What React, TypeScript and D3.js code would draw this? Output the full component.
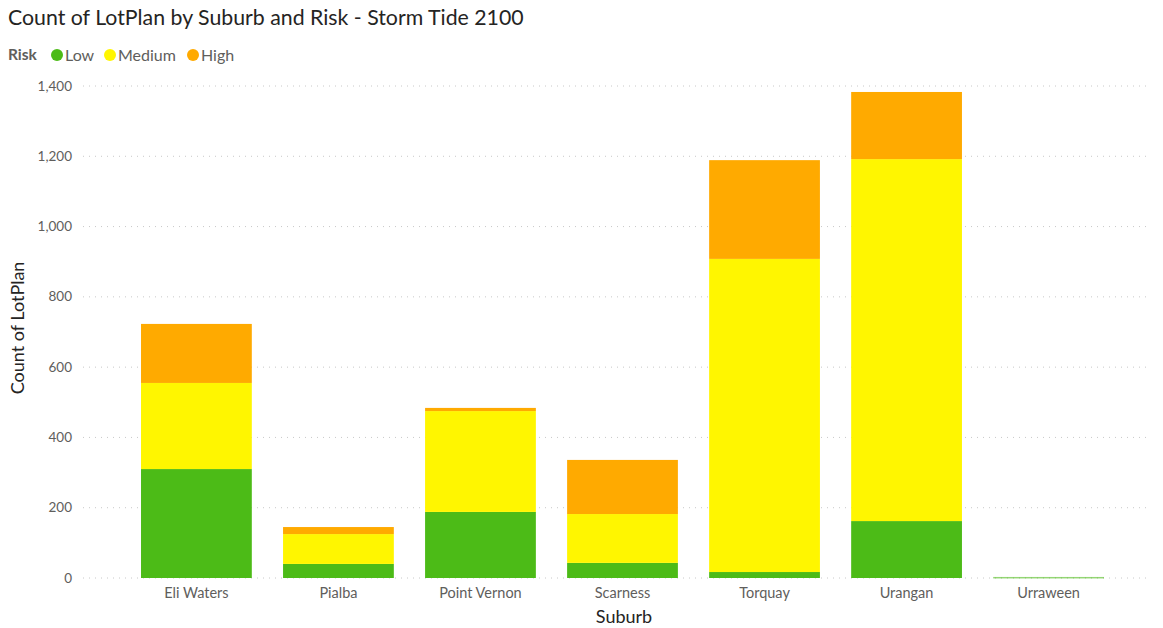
import React from "react";
import * as d3 from "d3";

const suburbs = ["Eli Waters", "Pialba", "Point Vernon", "Scarness", "Torquay", "Urangan", "Urraween"];
const lowValues = [310, 40, 188, 43, 17, 162, 3];
const mediumValues = [245, 85, 287, 139, 891, 1030, 0];
const highValues = [168, 20, 9, 154, 281, 191, 0];
const riskNames = ["Low", "Medium", "High"];
const riskColors = ["#4CBB17", "#FFF600", "#FFAA00"];
const yTicks = [0, 200, 400, 600, 800, 1000, 1200, 1400];

const W = 1163;
const H = 628;

export default function App() {
  const x = d3.scaleBand<string>().domain(suburbs).range([70, 1175]).paddingInner(0.22).paddingOuter(0.5);
  const y = d3.scaleLinear().domain([0, 1400]).range([578, 86]);
  const rows = suburbs.map((s, i) => ({ suburb: s, Low: lowValues[i], Medium: mediumValues[i], High: highValues[i] }));
  const stack = d3.stack<any>().keys(riskNames)(rows);
  const fmt = d3.format(",");
  const font = "Lato, 'Open Sans', sans-serif";
  const legendX = [57, 110, 193];

  return (
    <svg width={W} height={H} style={{ position: "absolute", left: 0, top: 0, background: "#fff" }} fontFamily={font}>
      <text x={8} y={25} fontSize={21.3} fill="#252423">Count of LotPlan by Suburb and Risk - Storm Tide 2100</text>
      <text x={8} y={60} fontSize={15.5} fontWeight="bold" fill="#605E5C">Risk</text>
      {riskNames.map((n, i) => (
        <g key={n}>
          <circle cx={legendX[i]} cy={55} r={6} fill={riskColors[i]} />
          <text x={legendX[i] + 8} y={60.5} fontSize={16} fill="#605E5C">{n}</text>
        </g>
      ))}
      {yTicks.map((t) => (
        <g key={t}>
          <line x1={83} x2={1150} y1={y(t)} y2={y(t)} stroke="#C8C8C8" strokeWidth={1} strokeDasharray="1,5" />
          <text x={72} y={y(t) + 4.5} fontSize={13.5} fill="#605E5C" textAnchor="end">{fmt(t)}</text>
        </g>
      ))}
      {stack.map((layer, li) => (
        <g key={riskNames[li]} fill={riskColors[li]}>
          {layer.map((d, i) => {
            const h = y(d[0]) - y(d[1]);
            if (h <= 0) return null;
            return (
              <rect key={i} x={x(suburbs[i])} width={x.bandwidth()} y={y(d[1])} height={Math.max(h, 1.5)} fillOpacity={h < 2 ? 0.6 : 1} />
            );
          })}
        </g>
      ))}
      {suburbs.map((s) => (
        <text key={s} x={(x(s) as number) + x.bandwidth() / 2} y={598} fontSize={14.5} fill="#605E5C" textAnchor="middle">{s}</text>
      ))}
      <text x={624} y={623} fontSize={18} fill="#252423" textAnchor="middle">Suburb</text>
      <text transform="translate(24,328) rotate(-90)" fontSize={18} fill="#252423" textAnchor="middle">Count of LotPlan</text>
    </svg>
  );
}
